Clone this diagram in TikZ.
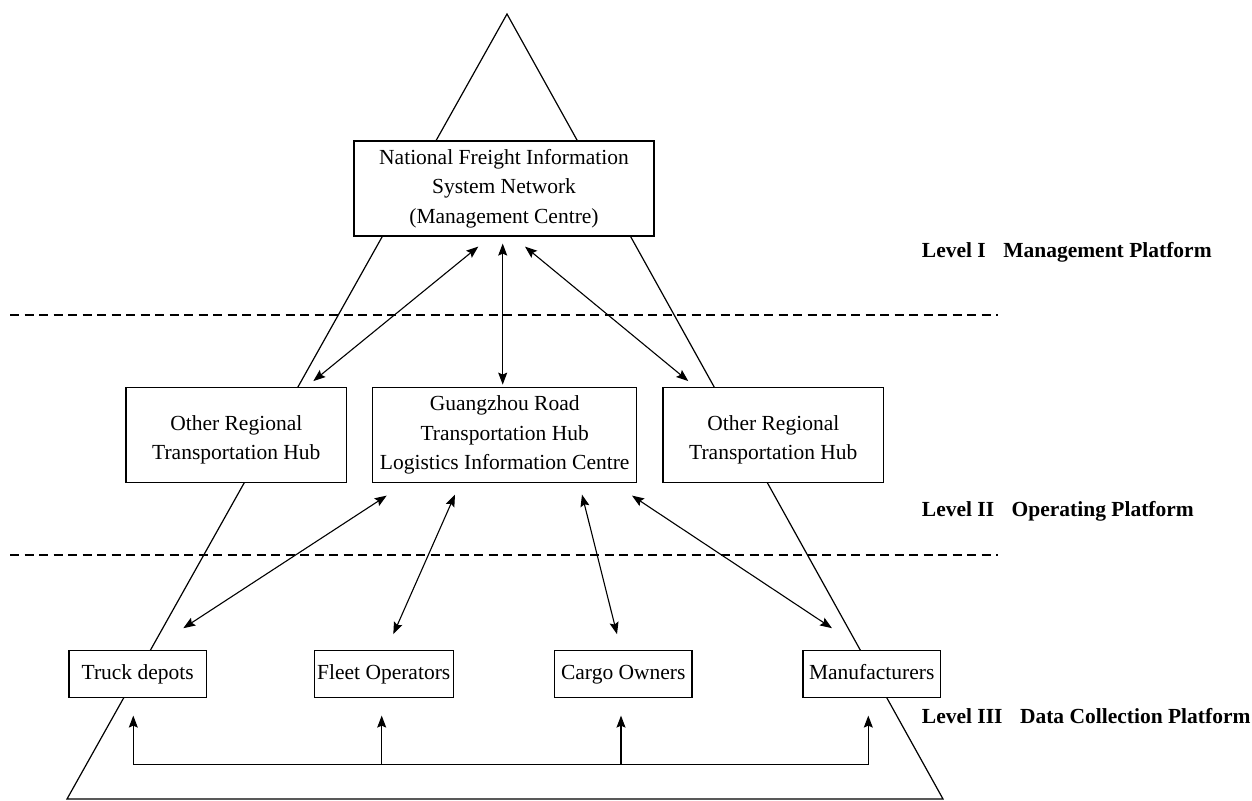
\documentclass[tikz,border=0pt]{standalone}
\usepackage{fontspec}
\setmainfont{Liberation Serif}
\usetikzlibrary{arrows.meta}

\tikzset{
  box/.style={draw, fill=white, line width=1.2pt, align=center,
    font=\fontsize{21.5}{29.5}\selectfont},
  bigbox/.style={box, minimum width=#1, minimum height=95pt, inner xsep=6.5pt, inner ysep=0pt},
  smallbox/.style={box, minimum width=137.5pt, minimum height=47pt, inner xsep=3pt, inner ysep=0pt,
    text height=14.5pt, text depth=4.5pt},
  level/.style={anchor=base west, inner sep=0pt, font=\fontsize{21.5}{26}\selectfont\bfseries},
  edge/.style={line width=1.2pt},
  tip/.style={Stealth[length=12pt,width=9pt,inset=2pt]},
  link/.style={line width=1.1pt, {Stealth[length=12pt,width=9pt,inset=2pt]}-{Stealth[length=12pt,width=9pt,inset=2pt]}},
  uplink/.style={line width=1.1pt, -{Stealth[length=12pt,width=9pt,inset=2pt]}},
  sep/.style={line width=1.1pt, dash pattern=on 9pt off 5.5pt},
}
% strut that lowers a two-line block inside its box
\newcommand{\lowstrut}{\rule{0pt}{24pt}}

\begin{document}
\begin{tikzpicture}[x=1pt, y=-1pt]
  \useasboundingbox (0,0) rectangle (1252,800);

  % pyramid outline
  \draw[edge, line join=miter] (507,14) -- (943,799) -- (67,799) -- cycle;

  % level separators
  \draw[sep] (10,315) -- (998,315);
  \draw[sep] (10,555) -- (998,555);

  % level I
  \node[bigbox=300pt] (nfis) at (504,188.5)
    {National Freight Information\\System Network\\(Management Centre)};

  % level II
  \node[bigbox=220.7pt] (hubL) at (236.3,435.2) {\lowstrut Other Regional\\Transportation Hub};
  \node[bigbox=264pt] (gz) at (504.7,435.2)
    {Guangzhou Road\\Transportation Hub\\Logistics Information Centre};
  \node[bigbox=220.7pt] (hubR) at (773.3,435.2) {\lowstrut Other Regional\\Transportation Hub};

  % level III
  \node[smallbox] (truck) at (137.7,674) {Truck depots};
  \node[smallbox] (fleet) at (383.7,674) {Fleet Operators};
  \node[smallbox] (cargo) at (623.3,674) {Cargo Owners};
  \node[smallbox] (manu) at (871.7,674) {Manufacturers};

  % level labels
  \node[level] (lab1) at (921.7,257.7) {Level I\hspace{17.5pt}Management Platform};
  \node[level] (lab2) at (921.7,516.7) {Level II\hspace{17.5pt}Operating Platform};
  \node[level] (lab3) at (921.7,723) {Level III\hspace{17.5pt}Data Collection Platform};

  % management centre <-> operating platform
  \draw[link] ([shift={(-25.7,10)}]nfis.south) -- ([shift={(77,-6)}]hubL.north);
  \draw[link] ([shift={(-1.3,7)}]nfis.south) -- ([shift={(-2,-2.5)}]gz.north);
  \draw[link] ([shift={(21,10)}]nfis.south) -- ([shift={(-85,-6)}]hubR.north);

  % information centre <-> data collection platform
  \draw[link] ([shift={(-118,12.3)}]gz.south) -- ([shift={(45.6,-21.7)}]truck.north);
  \draw[link] ([shift={(-49.7,11.3)}]gz.south) -- ([shift={(9.6,-15.7)}]fleet.north);
  \draw[link] ([shift={(77.3,11.3)}]gz.south) -- ([shift={(-6.3,-15.7)}]cargo.north);
  \draw[link] ([shift={(127.3,12.3)}]gz.south) -- ([shift={(-39.7,-21.7)}]manu.north);

  % shared data bus along the base
  \draw[line width=1.1pt] ([shift={(-4.4,66.5)}]truck.south) -- ([shift={(-3.4,66.5)}]manu.south);
  \draw[uplink] ([shift={(-4.4,66.5)}]truck.south) -- ([shift={(-4.4,17.5)}]truck.south);
  \draw[uplink] ([shift={(-2,66.5)}]fleet.south) -- ([shift={(-2,17.5)}]fleet.south);
  \draw[uplink] ([shift={(-2.3,66.5)}]cargo.south) -- ([shift={(-2.3,17.5)}]cargo.south);
  \draw[uplink] ([shift={(-3.4,66.5)}]manu.south) -- ([shift={(-3.4,17.5)}]manu.south);
\end{tikzpicture}
\end{document}
